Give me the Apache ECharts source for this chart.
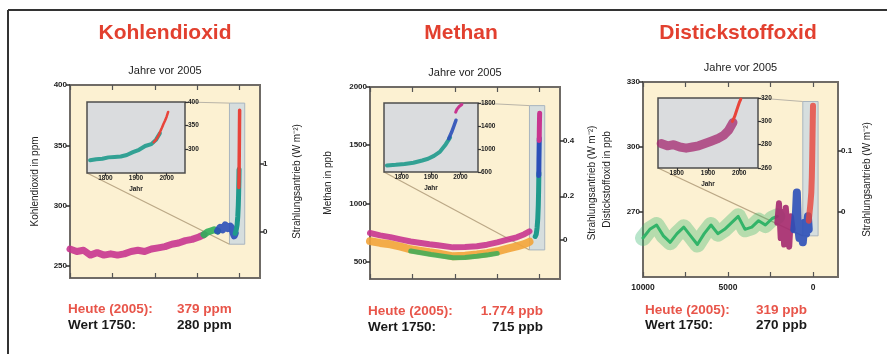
<!DOCTYPE html>
<html><head><meta charset="utf-8">
<script src="https://cdn.jsdelivr.net/npm/echarts@6/dist/echarts.min.js"></script>
<style>html,body{margin:0;padding:0;background:#fff}#c{width:887px;height:354px}</style>
</head><body><div id="c"></div>
<script>
// ---------- text ----------
const panelTitles = ['Kohlendioxid', 'Methan', 'Distickstoffoxid'];
const axisNames = ['Kohlendioxid in ppm', 'Methan in ppb', 'Distickstoffoxid in ppb'];
const forcingName = 'Strahlungsantrieb (W m\u207B\u00B2)';
const topAxisName = 'Jahre vor 2005';
const insetAxisName = 'Jahr';
const todayLabel = 'Heute (2005):';
const preLabel = 'Wert 1750:';
const todayValues = ['379 ppm', '1.774 ppb', '319 ppb'];
const preValues = ['280 ppm', '715 ppb', '270 ppb'];

// ---------- ticks ----------
const mainXTicks = [10000, 7500, 5000, 2500, 0];
const mainXLabels = [10000, 5000, 0];
const insetXTicks = [1800, 1900, 2000];
const co2Ticks = [250, 300, 350, 400];
const ch4Ticks = [500, 1000, 1500, 2000];
const n2oTicks = [270, 300, 330];
const co2ForcingPos = [278, 335];      const co2ForcingLabels = ['0', '1'];
const ch4ForcingPos = [690, 1061, 1536]; const ch4ForcingLabels = ['0', '0.2', '0.4'];
const n2oForcingPos = [270, 298.3];    const n2oForcingLabels = ['0', '0.1'];
const co2InsetTicks = [300, 350, 400];
const ch4InsetTicks = [600, 1000, 1400, 1800];
const n2oInsetTicks = [260, 280, 300, 320];
// zoom band (years before 2005) and value ranges
const bandYears = [600, -300];
const co2Band = [268, 385];
const ch4Band = [600, 1840];
const n2oBand = [259, 321];

// ---------- CO2 (ppm) ----------
const co2MagentaYears = [10000, 9600, 9200, 8800, 8400, 8000, 7600, 7200, 6800, 6400, 6000, 5600, 5200, 4800, 4400, 4000, 3600, 3200, 2800, 2400, 2100];
const co2MagentaPpm   = [264, 262, 263, 259, 261, 259, 260, 259, 260, 262, 263, 262, 264, 265, 266, 268, 269, 271, 272, 274, 276];
const co2GreenYears = [2100, 1900, 1700, 1500, 1300];
const co2GreenPpm   = [276, 278, 279, 280, 279];
const co2BlueYears = [1300, 1150, 1000, 850, 700, 550, 450, 380, 320, 260];
const co2BluePpm   = [279, 282, 280, 284, 281, 283, 281, 277, 275, 277];
const co2TealYears = [260, 200, 150, 110, 80, 60, 45, 35];
const co2TealPpm   = [277, 280, 284, 291, 300, 310, 320, 330];
const co2RedYears = [47, 35, 25, 15, 8, 0];
const co2RedPpm   = [315, 325, 340, 355, 368, 379];
const co2InsetIceYears = [1750, 1770, 1790, 1810, 1830, 1850, 1870, 1890, 1910, 1930, 1950, 1965, 1978];
const co2InsetIcePpm   = [277, 279, 280, 283, 284, 285, 288, 294, 299, 307, 311, 320, 334];
const co2InsetAirYears = [1958, 1965, 1970, 1975, 1980, 1985, 1990, 1995, 2000, 2005];
const co2InsetAirPpm   = [315, 320, 325, 331, 339, 346, 354, 361, 369, 379];

// ---------- CH4 (ppb) ----------
const ch4MagYears = [10000, 9400, 8800, 8200, 7600, 7000, 6500, 6000, 5100, 4400, 3700, 3100, 2500, 1900, 1350, 900, 600];
const ch4MagPpb   = [745, 725, 710, 690, 672, 660, 648, 640, 622, 625, 632, 645, 665, 688, 708, 735, 760];
const ch4OrangeYears = [10000, 9400, 8800, 8200, 7600, 7000, 6500, 6000, 5100, 4400, 3700, 3100, 2500, 1900, 1350, 900, 600];
const ch4OrangePpb   = [675, 660, 648, 628, 605, 592, 580, 570, 545, 550, 560, 572, 588, 610, 630, 650, 670];
const ch4GreenYears = [7600, 7000, 6400, 5800, 5100, 4400, 3700, 3000, 2500];
const ch4GreenPpb   = [590, 575, 560, 548, 532, 535, 545, 558, 570];
const ch4TealYears = [260, 200, 150, 110, 80, 60, 45];
const ch4TealPpb   = [715, 735, 790, 870, 980, 1110, 1260];
const ch4BlueYears = [50, 40, 30, 22];
const ch4BluePpb   = [1240, 1380, 1480, 1560];
const ch4RedYears = [25, 18, 10, 4, 0];
const ch4RedPpb   = [1540, 1630, 1710, 1750, 1774];
const ch4InsetIceYears = [1750, 1780, 1810, 1840, 1870, 1890, 1910, 1930, 1950, 1965];
const ch4InsetIcePpb   = [715, 725, 740, 760, 800, 830, 880, 950, 1080, 1200];
const ch4InsetBlueYears = [1960, 1970, 1978, 1985];
const ch4InsetBluePpb   = [1180, 1290, 1400, 1500];
const ch4InsetRedYears = [1984, 1988, 1992, 1996, 2000, 2005];
const ch4InsetRedPpb   = [1640, 1690, 1720, 1740, 1760, 1774];

// ---------- N2O (ppb) ----------
const n2oGreenYears = [10000, 9600, 9200, 8800, 8400, 8000, 7600, 7200, 6800, 6400, 6000, 5600, 5200, 4800, 4400, 4000, 3600, 3200, 2800, 2400, 2100];
const n2oGreenPpb   = [258, 262, 264, 259, 256, 260, 263, 259, 255, 260, 264, 260, 262, 265, 268, 262, 263, 266, 264, 267, 268];
const n2oMagYears = [2100, 2000, 1900, 1800, 1700, 1600, 1500, 1400, 1300, 1200];
const n2oMagPpb   = [265, 274, 258, 270, 255, 272, 262, 254, 268, 262];
const n2oBlueYears = [1100, 1000, 950, 900, 800, 700, 600, 500, 400, 300, 250];
const n2oBluePpb   = [262, 270, 279, 265, 258, 262, 256, 265, 260, 268, 262];
const n2oRedYears = [250, 200, 150, 100, 70, 50, 30, 15, 0];
const n2oRedPpb   = [266, 270, 274, 279, 286, 294, 304, 312, 319];
const n2oInsetIceYears = [1750, 1770, 1790, 1810, 1830, 1850, 1870, 1890, 1910, 1930, 1950, 1965, 1980];
const n2oInsetIcePpb   = [281, 279, 280, 278, 277, 278, 279, 281, 283, 285, 288, 292, 299];
const n2oInsetAirYears = [1978, 1985, 1990, 1995, 2000, 2005];
const n2oInsetAirPpb   = [300, 304, 308, 312, 316, 319];

// ---------- build ----------
const FONT = '"Liberation Sans", Arial, sans-serif';
const C = {mag:'#c8358f', teal:'#1f9a8c', green:'#2fae5a', blue:'#2b4fb8', red:'#e8443a',
           orange:'#f2a43a', dmag:'#a4286f', ngreen:'#33b469'};
function pts(xs, ys) { return xs.map((x, i) => [x, ys[i]]); }
const plain = (v) => String(v);
const noLine = {show:false, onZero:false};

const panels = [
  { grid:{left:70, top:85, width:190, height:193}, xMin:-1200, yMin:240, yMax:400, yTicks:co2Ticks,
    fPos:co2ForcingPos, fLab:co2ForcingLabels, nameGapL:30, nameGapR:32, showX:false,
    inset:{left:87, top:102, width:98, height:71}, iMin:250, iMax:400, iTicks:co2InsetTicks, band:co2Band },
  { grid:{left:370, top:87, width:190, height:192}, xMin:-1200, yMin:350, yMax:2000, yTicks:ch4Ticks,
    fPos:ch4ForcingPos, fLab:ch4ForcingLabels, nameGapL:37, nameGapR:27, showX:false,
    inset:{left:384, top:103, width:94, height:69}, iMin:600, iMax:1800, iTicks:ch4InsetTicks, band:ch4Band },
  { grid:{left:643, top:82, width:195, height:195}, xMin:-1470, yMin:240, yMax:330, yTicks:n2oTicks,
    fPos:n2oForcingPos, fLab:n2oForcingLabels, nameGapL:31, nameGapR:24, showX:true,
    inset:{left:658, top:98, width:100, height:70}, iMin:260, iMax:320, iTicks:n2oInsetTicks, band:n2oBand }
];

const grids = [], xAxes = [], yAxes = [], series = [];
const lblStyle = {fontFamily:FONT, fontWeight:'bold', color:'#222'};

panels.forEach((p, i) => {
  grids.push(Object.assign({show:true, backgroundColor:'#fcf1d2', borderColor:'#6f6b66', borderWidth:2, z:0}, p.grid));
});
panels.forEach((p, i) => {
  grids.push(Object.assign({show:true, backgroundColor:'#dadcde', borderColor:'#4d4d4d', borderWidth:1.5, z:10}, p.inset));
});

panels.forEach((p, i) => {
  xAxes.push({gridIndex:i, type:'value', inverse:true, min:p.xMin, max:10000, position:'bottom',
    axisLine:noLine, splitLine:{show:false},
    axisTick:{inside:true, length:5, customValues:mainXTicks, lineStyle:{color:'#555', width:1.2}},
    axisLabel:Object.assign({show:p.showX, customValues:mainXLabels, fontSize:8.5, margin:6, formatter:plain}, lblStyle)});
  xAxes.push({gridIndex:i, type:'value', inverse:true, min:p.xMin, max:10000, position:'top',
    axisLine:noLine, splitLine:{show:false},
    axisTick:{inside:true, length:5, customValues:mainXTicks, lineStyle:{color:'#555', width:1.2}},
    axisLabel:{show:false},
    name:topAxisName, nameLocation:'middle', nameGap:9,
    nameTextStyle:{fontFamily:FONT, fontSize:11, color:'#222'}});
  yAxes.push({gridIndex:i, type:'value', min:p.yMin, max:p.yMax, position:'left',
    axisLine:noLine, splitLine:{show:false},
    axisTick:{inside:false, length:4, customValues:p.yTicks, lineStyle:{color:'#333', width:1.5}},
    axisLabel:Object.assign({customValues:p.yTicks, fontSize:8, margin:3, formatter:plain}, lblStyle),
    name:axisNames[i], nameLocation:'middle', nameRotate:90, nameGap:p.nameGapL,
    nameTextStyle:{fontFamily:FONT, fontSize:10, color:'#222'}});
  yAxes.push({gridIndex:i, type:'value', min:p.yMin, max:p.yMax, position:'right',
    axisLine:noLine, splitLine:{show:false},
    axisTick:{inside:false, length:4, customValues:p.fPos, lineStyle:{color:'#333', width:1.5}},
    axisLabel:Object.assign({customValues:p.fPos, fontSize:8, margin:3,
      formatter:(v) => { let best = 0; p.fPos.forEach((q, k) => { if (Math.abs(q - v) < Math.abs(p.fPos[best] - v)) best = k; }); return p.fLab[best]; }}, lblStyle),
    name:forcingName, nameLocation:'middle', nameRotate:90, nameGap:p.nameGapR,
    nameTextStyle:{fontFamily:FONT, fontSize:10, color:'#222'}});
});
panels.forEach((p, i) => {
  xAxes.push({gridIndex:3 + i, type:'value', min:1740, max:2060, z:11,
    axisLine:noLine, splitLine:{show:false},
    axisTick:{inside:false, length:3, customValues:insetXTicks, lineStyle:{color:'#333', width:1.2}},
    axisLabel:Object.assign({customValues:insetXTicks, fontSize:6.5, margin:2, formatter:plain}, lblStyle),
    name:insetAxisName, nameLocation:'middle', nameGap:13,
    nameTextStyle:{fontFamily:FONT, fontSize:6.5, fontWeight:'bold', color:'#222'}});
  yAxes.push({gridIndex:3 + i, type:'value', min:p.iMin, max:p.iMax, position:'right', z:11,
    axisLine:noLine, splitLine:{show:false},
    axisTick:{inside:false, length:3, customValues:p.iTicks, lineStyle:{color:'#333', width:1.2}},
    axisLabel:Object.assign({customValues:p.iTicks, fontSize:6.5, margin:3, formatter:plain}, lblStyle)});
});

function line(panel, inset, xs, ys, color, width, opacity, extra) {
  const xi = inset ? 6 + panel : 2 * panel;
  const yi = inset ? 6 + panel : 2 * panel;
  const s = {type:'line', xAxisIndex:xi, yAxisIndex:yi, data:pts(xs, ys), symbol:'none', showSymbol:false,
    silent:true, z: inset ? 12 : 2,
    lineStyle:{color:color, width:width, opacity:opacity == null ? 1 : opacity, cap:'round', join:'round'}};
  series.push(Object.assign(s, extra || {}));
}
function band(p) {
  return {markArea:{silent:true, label:{show:false},
    itemStyle:{color:'rgba(198,214,226,0.7)', borderColor:'#a9b5bf', borderWidth:1},
    data:[[{coord:[bandYears[0], p.band[0]]}, {coord:[bandYears[1], p.band[1]]}]]}};
}

line(0, false, co2MagentaYears, co2MagentaPpm, C.mag, 7, 0.9, band(panels[0]));
line(0, false, co2GreenYears, co2GreenPpm, C.green, 7, 0.9);
line(0, false, co2BlueYears, co2BluePpm, C.blue, 7, 0.9);
line(0, false, co2TealYears, co2TealPpm, C.teal, 5, 1);
line(0, false, co2RedYears, co2RedPpm, C.red, 3.5, 1);
line(0, true, co2InsetIceYears, co2InsetIcePpm, C.teal, 4, 0.9);
line(0, true, co2InsetAirYears, co2InsetAirPpm, C.red, 2.5, 1);

line(1, false, ch4OrangeYears, ch4OrangePpb, C.orange, 8, 0.9, band(panels[1]));
line(1, false, ch4GreenYears, ch4GreenPpb, C.green, 5, 0.8);
line(1, false, ch4MagYears, ch4MagPpb, C.mag, 6, 0.9);
line(1, false, ch4TealYears, ch4TealPpb, C.teal, 5, 1);
line(1, false, ch4BlueYears, ch4BluePpb, C.blue, 5, 1);
line(1, false, ch4RedYears, ch4RedPpb, C.mag, 5, 1);
line(1, true, ch4InsetIceYears, ch4InsetIcePpb, C.teal, 4, 0.9);
line(1, true, ch4InsetBlueYears, ch4InsetBluePpb, C.blue, 3.5, 0.9);
line(1, true, ch4InsetRedYears, ch4InsetRedPpb, C.mag, 3, 1);

line(2, false, n2oGreenYears, n2oGreenPpb, C.ngreen, 16, 0.35, band(panels[2]));
line(2, false, n2oGreenYears, n2oGreenPpb, C.ngreen, 3, 1);
line(2, false, n2oMagYears, n2oMagPpb, C.dmag, 6, 0.9);
line(2, false, n2oBlueYears, n2oBluePpb, C.blue, 8, 0.9);
line(2, false, n2oRedYears, n2oRedPpb, C.red, 6, 0.8);
line(2, true, n2oInsetIceYears, n2oInsetIcePpb, C.dmag, 9, 0.75);
line(2, true, n2oInsetAirYears, n2oInsetAirPpb, C.red, 3, 1);

const chart = echarts.init(document.getElementById('c'), null, {renderer:'canvas', width:887, height:354});
chart.setOption({animation:false, backgroundColor:'#ffffff', grid:grids, xAxis:xAxes, yAxis:yAxes, series:series});

const graphics = [];
graphics.push({type:'line', shape:{x1:8, y1:10, x2:887, y2:10}, style:{stroke:'#333', lineWidth:2}, z:20});
graphics.push({type:'line', shape:{x1:8, y1:10, x2:8, y2:354}, style:{stroke:'#333', lineWidth:2}, z:20});
const titleX = [165, 461, 738];
panelTitles.forEach((t, i) => graphics.push({type:'text', x:titleX[i], y:33, z:20,
  style:{text:t, font:'bold 21px ' + FONT, fill:'#e2402f', align:'center', verticalAlign:'middle'}}));
const textLeft = [68, 368, 645];
const valueAnchor = [177, 543, 807];
const valueAlign = ['left', 'right', 'right'];
const rowY1 = [309, 311, 310], rowY2 = [325, 327, 325];
panels.forEach((p, i) => {
  graphics.push({type:'text', x:textLeft[i], y:rowY1[i], z:20, style:{text:todayLabel, font:'bold 13.5px ' + FONT, fill:'#e8554a', align:'left', verticalAlign:'middle'}});
  graphics.push({type:'text', x:valueAnchor[i], y:rowY1[i], z:20, style:{text:todayValues[i], font:'bold 13.5px ' + FONT, fill:'#e8554a', align:valueAlign[i], verticalAlign:'middle'}});
  graphics.push({type:'text', x:textLeft[i], y:rowY2[i], z:20, style:{text:preLabel, font:'bold 13.5px ' + FONT, fill:'#1a1a1a', align:'left', verticalAlign:'middle'}});
  graphics.push({type:'text', x:valueAnchor[i], y:rowY2[i], z:20, style:{text:preValues[i], font:'bold 13.5px ' + FONT, fill:'#1a1a1a', align:valueAlign[i], verticalAlign:'middle'}});
  const iBL = chart.convertToPixel({xAxisIndex:6 + i, yAxisIndex:6 + i}, [1740, p.iMin]);
  const iTR = chart.convertToPixel({xAxisIndex:6 + i, yAxisIndex:6 + i}, [2060, p.iMax]);
  const bBL = chart.convertToPixel({xAxisIndex:2 * i, yAxisIndex:2 * i}, [bandYears[0], p.band[0]]);
  const bTL = chart.convertToPixel({xAxisIndex:2 * i, yAxisIndex:2 * i}, [bandYears[0], p.band[1]]);
  graphics.push({type:'line', shape:{x1:iBL[0], y1:iBL[1], x2:bBL[0], y2:bBL[1]}, style:{stroke:'#bba886', lineWidth:1.2}, z:1});
  graphics.push({type:'line', shape:{x1:iTR[0], y1:iTR[1], x2:bTL[0], y2:bTL[1]}, style:{stroke:'#b9b4a8', lineWidth:1}, z:1});
});
chart.setOption({graphic:graphics});
</script>
</body></html>
